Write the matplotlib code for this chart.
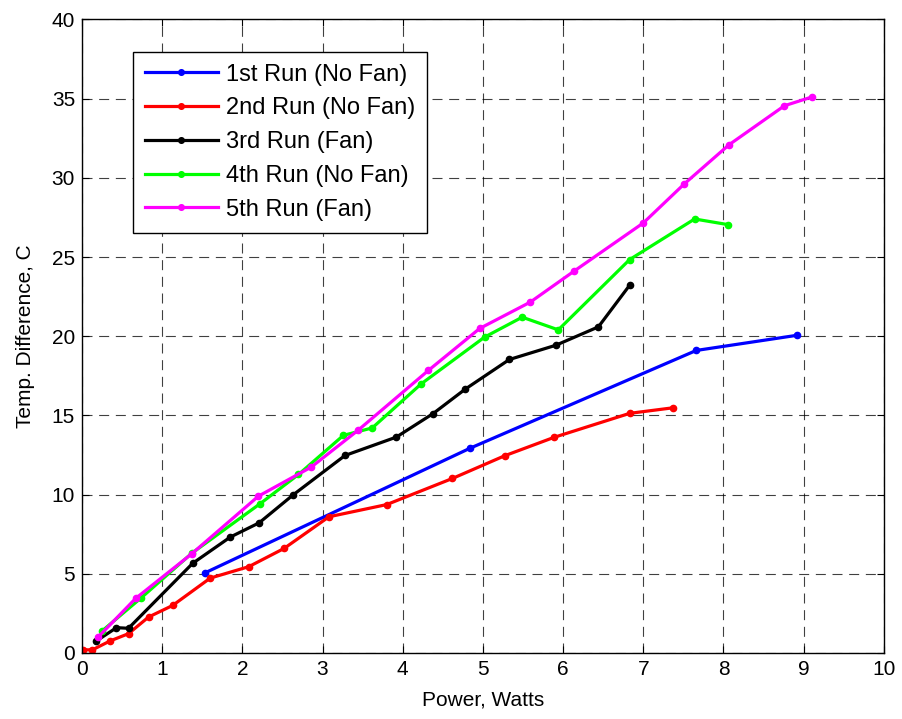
import matplotlib
matplotlib.use("Agg")
import matplotlib.pyplot as plt

plt.rcParams['font.family'] = ['Liberation Sans', 'DejaVu Sans']

# data
run1_x = [1.53, 4.84, 7.66, 8.92]
run1_y = [5.05, 12.93, 19.1, 20.06]

run2_x = [0.01, 0.13, 0.35, 0.58, 0.83, 1.13, 1.6, 2.08, 2.52, 3.08, 3.8, 4.62, 5.27, 5.89, 6.83, 7.37]
run2_y = [0.2, 0.2, 0.76, 1.22, 2.27, 3.0, 4.73, 5.45, 6.6, 8.6, 9.37, 11.02, 12.45, 13.62, 15.13, 15.48]

run3_x = [0.18, 0.43, 0.58, 1.38, 1.85, 2.21, 2.63, 3.28, 3.92, 4.38, 4.78, 5.33, 5.91, 6.44, 6.83]
run3_y = [0.76, 1.6, 1.56, 5.66, 7.32, 8.22, 9.97, 12.47, 13.63, 15.12, 16.66, 18.53, 19.43, 20.59, 23.22]

run4_x = [0.25, 0.74, 1.37, 2.22, 2.7, 3.26, 3.62, 4.23, 5.02, 5.49, 5.94, 6.83, 7.64, 8.05]
run4_y = [1.39, 3.49, 6.3, 9.42, 11.27, 13.74, 14.21, 16.99, 19.94, 21.2, 20.4, 24.84, 27.4, 27.05]

run5_x = [0.2, 0.67, 1.37, 2.2, 2.86, 3.44, 4.32, 4.96, 5.59, 6.14, 7.0, 7.51, 8.07, 8.76, 9.1]
run5_y = [1.0, 3.45, 6.27, 9.9, 11.74, 14.05, 17.84, 20.49, 22.15, 24.12, 27.15, 29.61, 32.09, 34.55, 35.1]

labels = ['1st Run (No Fan)', '2nd Run (No Fan)', '3rd Run (Fan)', '4th Run (No Fan)', '5th Run (Fan)']
colors = ['#0000ff', '#ff0000', '#000000', '#00ff00', '#ff00ff']

fig = plt.figure(figsize=(9.02, 7.19), dpi=100)
ax = fig.add_axes([0.0909, 0.0918, 0.889, 0.8812])

series = [(run1_x, run1_y), (run2_x, run2_y), (run3_x, run3_y), (run4_x, run4_y), (run5_x, run5_y)]
for (xs, ys), lab, c in zip(series, labels, colors):
    ax.plot(xs, ys, '-o', color=c, lw=2.3, ms=4.5, label=lab)

ax.set_xlim(0, 10)
ax.set_ylim(0, 40)
ax.set_xticks(range(0, 11))
ax.set_yticks(range(0, 41, 5))
ax.grid(True, color='black', linestyle=(0, (9, 6)), lw=0.8, alpha=0.75)
ax.tick_params(direction='in', labelsize=15, length=5, top=True, right=True, pad=5)
for s in ax.spines.values():
    s.set_linewidth(1.0)

ax.set_xlabel('Power, Watts', fontsize=15, labelpad=8)
ax.set_ylabel('Temp. Difference, C', fontsize=15, labelpad=12)

leg = ax.legend(loc='upper left', bbox_to_anchor=(0.0636, 0.949), borderaxespad=0,
                fontsize=17, fancybox=False, edgecolor='black', framealpha=1,
                handlelength=3.1, handletextpad=0.35, labelspacing=0.5, borderpad=0.5,
                markerscale=0.9)
leg.get_frame().set_linewidth(1.0)

fig.savefig('out.png', dpi=100)
